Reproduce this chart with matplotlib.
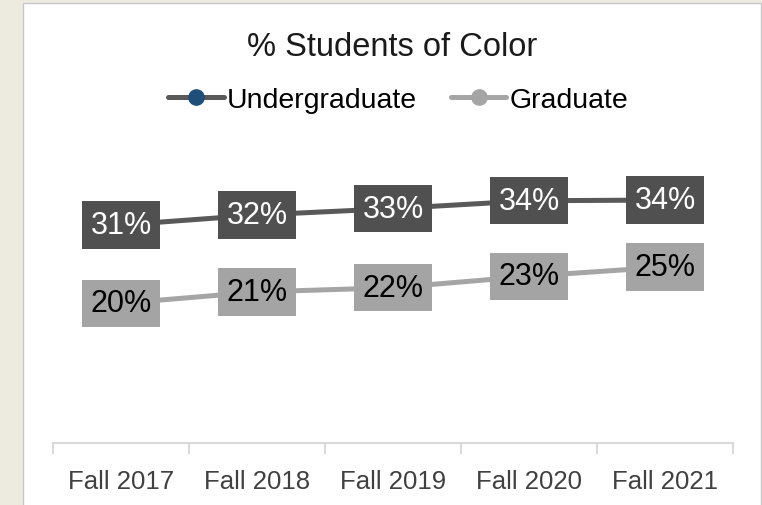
import matplotlib.pyplot as plt
from matplotlib.patches import Rectangle

plt.rcParams['font.family'] = ['Liberation Sans', 'DejaVu Sans']

years = ['Fall 2017', 'Fall 2018', 'Fall 2019', 'Fall 2020', 'Fall 2021']
undergrad = [30.6, 32.0, 32.9, 34.0, 34.1]
grad = [19.6, 21.2, 21.8, 23.4, 24.7]

fig = plt.figure(figsize=(7.62, 5.06), dpi=100)
fig.patch.set_facecolor('#EDEAE0')
# white chart area with thin border
fig.add_artist(Rectangle((23/762, -0.01), (761-23)/762, 1 - 4/506 + 0.01,
                         transform=fig.transFigure, facecolor='white',
                         edgecolor='#C8C8C8', linewidth=1, zorder=-5))

ax = fig.add_axes([53/762, 1-444/506, 680/762, (444-159)/506])
ax.set_facecolor('none')
x = list(range(len(years)))

ax.plot(x, undergrad, color='#595959', lw=3.6, marker='o', ms=11,
        mfc='#1F4E79', mec='#1F4E79', label='Undergraduate', zorder=2,
        solid_capstyle='round')
ax.plot(x, grad, color='#A5A5A5', lw=3.6, marker='o', ms=11,
        mfc='#A5A5A5', mec='#A5A5A5', label='Graduate', zorder=2,
        solid_capstyle='round')

for i in x:
    ax.text(i, undergrad[i], f'{undergrad[i]:.0f}%', ha='center', va='center',
            fontsize=22, color='white', zorder=3,
            bbox=dict(boxstyle='square,pad=0.28', fc='#505050', ec='none'))
    ax.text(i, grad[i], f'{grad[i]:.0f}%', ha='center', va='center',
            fontsize=22, color='black', zorder=3,
            bbox=dict(boxstyle='square,pad=0.28', fc='#A3A4A3', ec='none'))

ax.set_xlim(-0.5, len(years) - 0.5)
ax.set_ylim(0, 40)
ax.set_yticks([])
ax.set_xticks(x)
ax.set_xticklabels(years, fontsize=18.5, color='#404040')
ax.tick_params(axis='x', which='major', length=0, pad=19)
ax.set_xticks([i - 0.5 for i in range(len(years) + 1)], minor=True)
ax.tick_params(axis='x', which='minor', length=8, width=1.5, color='#D9D9D9')
for s in ['top', 'right', 'left']:
    ax.spines[s].set_visible(False)
ax.spines['bottom'].set_color('#D9D9D9')
ax.spines['bottom'].set_linewidth(1.5)

fig.text(392/762, 1-47/506, '% Students of Color', ha='center', va='center',
         fontsize=23.5, color='#1A1A1A')
fig.legend(loc='center', bbox_to_anchor=(398/762, 1-101/506), ncol=2,
           frameon=False, fontsize=20.5, handlelength=1.95, handletextpad=0.1,
           columnspacing=1.2)

fig.savefig('out.png', dpi=100)
